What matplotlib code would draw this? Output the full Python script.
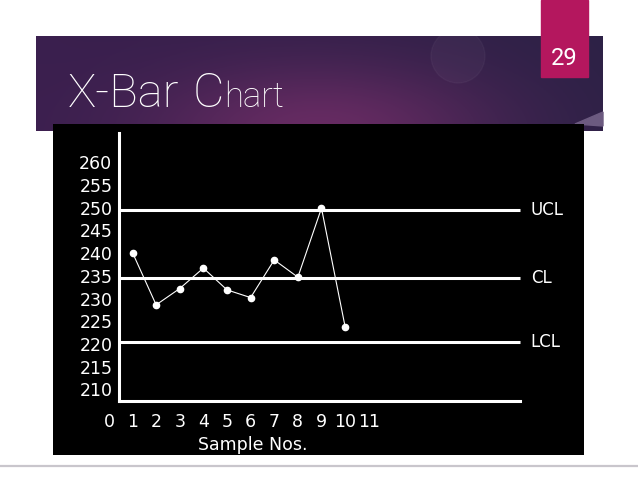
import numpy as np
import matplotlib
matplotlib.use("Agg")
import matplotlib.pyplot as plt
from matplotlib.patches import Rectangle, Polygon, Circle

# data
samples = [1, 2, 3, 4, 5, 6, 7, 8, 9, 10]
xbar = [240.1, 228.6, 232.2, 236.7, 231.9, 230.2, 238.5, 234.7, 249.9, 223.8]
ucl, cl, lcl = 249.5, 234.5, 220.5
y_ticks = [210, 215, 220, 225, 230, 235, 240, 245, 250, 255, 260]
x_ticks = [0, 1, 2, 3, 4, 5, 6, 7, 8, 9, 10, 11]
limit_names = ["UCL", "CL", "LCL"]

W, H = 638, 479
fig = plt.figure(figsize=(W / 100, H / 100), dpi=100)
fig.patch.set_facecolor("white")

# slide background (pixel coords)
bg = fig.add_axes([0, 0, 1, 1])
bg.set_xlim(0, W)
bg.set_ylim(H, 0)
bg.axis("off")

# purple banner with a soft glow
bx0, bx1, by0, by1 = 36, 603, 36, 131
gx = np.linspace(0, 1, 300)
gy = np.linspace(0, 1, 60)
GX, GY = np.meshgrid(gx, gy)
dark = np.array([0x3a, 0x1f, 0x4e]) / 255
glow = np.array([0x66, 0x2b, 0x62]) / 255
right = np.array([0x2d, 0x21, 0x46]) / 255
t = np.exp(-((GX - 0.5) ** 2 / 0.09 + (GY - 1.0) ** 2 / 0.5))
base = dark[None, None, :] * (1 - GX[..., None]) + right[None, None, :] * GX[..., None]
img = base * (1 - t[..., None]) + glow[None, None, :] * t[..., None]
bg.imshow(img, extent=(bx0, bx1, by1, by0), aspect="auto", zorder=1)
bg.add_patch(Circle((458, 56), 27, color="white", alpha=0.035, zorder=2))
bg.add_patch(Polygon([(575, 124), (603, 112), (603, 126)], closed=True,
                     color="#6c5a80", zorder=2))

# page number tab
bg.add_patch(Rectangle((541, 0), 47, 77, color="#b4175e", zorder=3))
bg.text(564, 65, "29", color="white", fontsize=17, ha="center", va="baseline",
        family="Roboto", zorder=4)

# title
title_font = dict(color="white", family="Roboto", fontweight="light",
                  va="baseline", zorder=4)
bg.text(68, 107, "X-Bar", fontsize=34, **title_font)
bg.text(193, 107, "C", fontsize=35, **title_font)
bg.text(224, 107, "hart", fontsize=25, **title_font)

# bottom rule
bg.plot([0, W], [466, 466], color="#c9c6cc", lw=1.6, zorder=1)

# chart panel
cx0, cx1, cy0, cy1 = 53, 584, 124, 455
ax = fig.add_axes([cx0 / W, 1 - cy1 / H, (cx1 - cx0) / W, (cy1 - cy0) / H])
ax.set_facecolor("black")
# px scale: x -> 108.9 + 23.62*x ; y -> 162.3 + (260 - y)*4.54
ax.set_xlim((cx0 - 108.9) / 23.62, (cx1 - 108.9) / 23.62)
ax.set_ylim(260 - (cy1 - 162.3) / 4.54, 260 - (cy0 - 162.3) / 4.54)

x_axis = (119.3 - 108.9) / 23.62
x_end = (520 - 108.9) / 23.62
y_base = 207.5
y_top = 260 - (133 - 162.3) / 4.54

for s in ["top", "right"]:
    ax.spines[s].set_visible(False)
ax.spines["left"].set_position(("data", x_axis))
ax.spines["left"].set_bounds(y_base, y_top)
ax.spines["bottom"].set_position(("data", y_base))
ax.spines["bottom"].set_bounds(x_axis, x_end)
for s in ["left", "bottom"]:
    ax.spines[s].set_color("white")
    ax.spines[s].set_linewidth(2.2)

ax.set_yticks(y_ticks)
ax.set_yticklabels([str(v) for v in y_ticks])
ax.set_xticks(x_ticks)
ax.set_xticklabels([str(v) for v in x_ticks])
ax.tick_params(axis="both", length=0, colors="white", labelsize=12.5)
ax.tick_params(axis="y", pad=5)
ax.tick_params(axis="x", pad=9)
ax.set_xlabel("Sample Nos.", color="white", fontsize=12.5)
ax.xaxis.set_label_coords((253 - cx0) / (cx1 - cx0), (cy1 - 445) / (cy1 - cy0))
ax.xaxis.label.set_va("center")

for val, name in zip([ucl, cl, lcl], limit_names):
    ax.plot([x_axis, x_end], [val, val], color="white", lw=2.2, solid_capstyle="butt")
    ax.text(x_end + 0.45, val, name, color="white", fontsize=12, va="center", ha="left")

ax.plot(samples, xbar, color="white", lw=0.8, marker="o", markersize=4.5,
        markerfacecolor="white", markeredgecolor="white")

fig.savefig("out.png", dpi=100, facecolor="white")
